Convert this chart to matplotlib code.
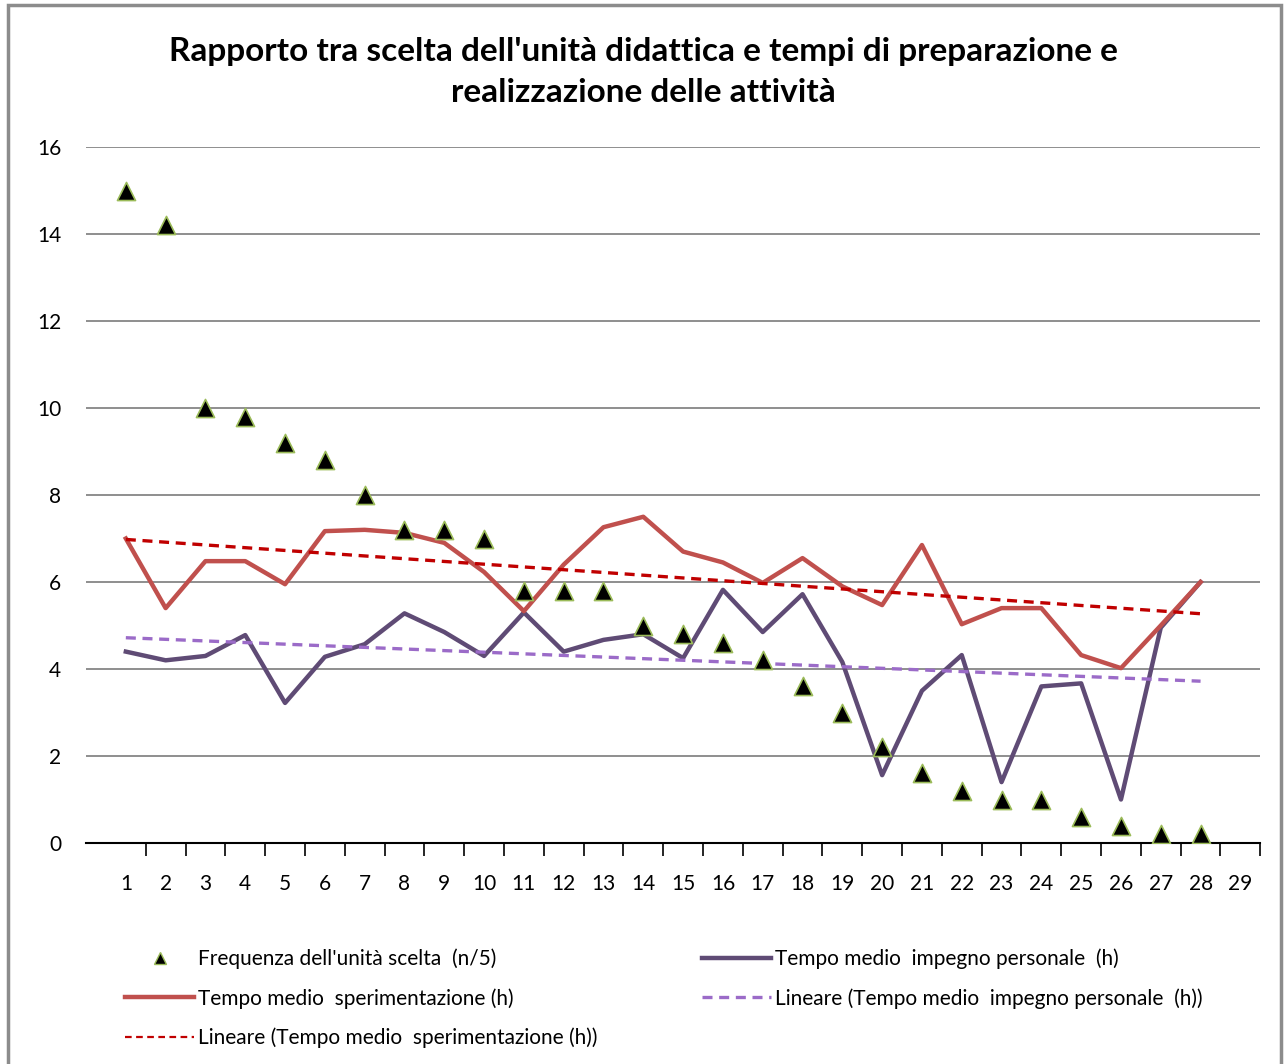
import numpy as np
import matplotlib
matplotlib.use("Agg")
import matplotlib.pyplot as plt
from matplotlib.patches import Rectangle
from matplotlib.lines import Line2D

# data
units = list(range(1, 29))
frequenza = [15.0, 14.2, 10.0, 9.8, 9.2, 8.8, 8.0, 7.2, 7.2, 7.0,
             5.8, 5.8, 5.8, 5.0, 4.8, 4.6, 4.2, 3.6, 3.0, 2.2,
             1.6, 1.2, 1.0, 1.0, 0.6, 0.4, 0.2, 0.2]
sperimentazione = [7.0, 5.4, 6.48, 6.48, 5.95, 7.17, 7.2, 7.13, 6.9, 6.23,
                   5.33, 6.4, 7.26, 7.5, 6.7, 6.45, 5.98, 6.55, 5.9, 5.47,
                   6.85, 5.03, 5.4, 5.4, 4.32, 4.02, 5.0, 6.0]
# last point sits under the red line
impegno = [4.4, 4.2, 4.3, 4.78, 3.22, 4.28, 4.57, 5.28, 4.85, 4.3,
           5.3, 4.4, 4.67, 4.8, 4.25, 5.82, 4.85, 5.72, 4.16, 1.56,
           3.5, 4.32, 1.4, 3.6, 3.67, 1.0, 4.95, 6.0]
xlabels = [str(i) for i in range(1, 30)]
title = "Rapporto tra scelta dell'unità didattica e tempi di preparazione e\nrealizzazione delle attività"

plt.rcParams["font.family"] = ["Lato", "DejaVu Sans"]

fig = plt.figure(figsize=(12.86, 10.64), dpi=100)
ax = fig.add_axes([0.0669, 0.2077, 0.9131, 0.6541])

# outer frame like the Excel chart area
fig.patches.append(Rectangle((0.006, -0.01), 0.99, 1.005, transform=fig.transFigure,
                             fill=False, edgecolor="#8c8c8c", linewidth=2.5))

x = np.array(units)

ax.plot(x, impegno, color="#5F4B75", lw=3.2, zorder=3)
ax.plot(x, sperimentazione, color="#C0504D", lw=3.2, zorder=3.5)

# linear trend lines (least squares, as Excel does)
p_sp = np.polyfit(x, sperimentazione, 1)
p_im = np.polyfit(x, impegno, 1)
ax.plot(x, np.polyval(p_sp, x), color="#C00000", lw=2.4, ls=(0, (3, 2)), zorder=4)
ax.plot(x, np.polyval(p_im, x), color="#9B6BC8", lw=2.4, ls=(0, (3, 2)), zorder=4)

ax.scatter(x, frequenza, marker="^", s=170, color="black", edgecolors="#9BBB59",
           linewidths=1.2, zorder=5)

ax.set_xlim(0, 29.5)
ax.set_ylim(0, 16)
ax.set_yticks(range(0, 17, 2))
ax.set_xticks(range(1, 30))
ax.set_xticklabels(xlabels)
ax.set_xticks(np.arange(1.5, 30, 1), minor=True)
ax.tick_params(axis="x", which="major", length=0, pad=22, labelsize=15)
ax.tick_params(axis="x", which="minor", length=9, width=1.2, color="black")
ax.tick_params(axis="y", length=0, pad=18, labelsize=15)
ax.grid(axis="y", color="#868686", lw=1.3)
ax.set_axisbelow(True)
for s in ["left", "right", "top"]:
    ax.spines[s].set_visible(False)
ax.spines["bottom"].set_linewidth(1.5)

fig.suptitle(title, fontsize=24, fontweight="bold", y=0.965, linespacing=1.5)

h_freq = Line2D([], [], ls="none", marker="^", markersize=9, color="black",
                markeredgecolor="#9BBB59")
h_sp = Line2D([], [], color="#C0504D", lw=3.2)
h_lsp = Line2D([], [], color="#C00000", lw=1.6, ls=(0, (3, 2)))
h_im = Line2D([], [], color="#5F4B75", lw=3.2)
h_lim = Line2D([], [], color="#9B6BC8", lw=2.4, ls=(0, (3, 2)))
fig.legend([h_freq, h_sp, h_lsp, h_im, h_lim],
           ["Frequenza dell'unità scelta  (n/5)", "Tempo medio  sperimentazione (h)",
            "Lineare (Tempo medio  sperimentazione (h))",
            "Tempo medio  impegno personale  (h)",
            "Lineare (Tempo medio  impegno personale  (h))"],
           ncol=2, loc="upper left", bbox_to_anchor=(0.083, 0.126), frameon=False,
           fontsize=15, handlelength=3.3, handletextpad=0.2, columnspacing=5.0,
           labelspacing=0.9)

fig.savefig("out.png", dpi=100)
